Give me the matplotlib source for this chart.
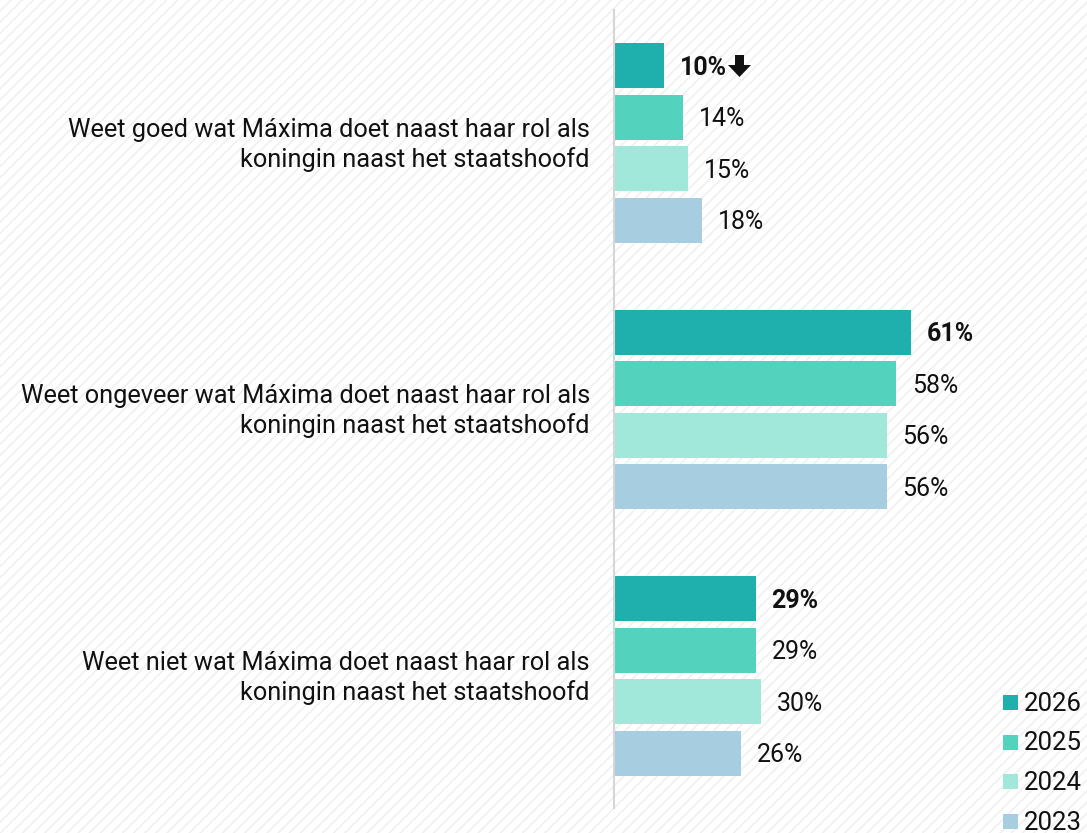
import matplotlib.pyplot as plt
from matplotlib.patches import Rectangle, Polygon

categories = [
    "Weet goed wat Máxima doet naast haar rol als\nkoningin naast het staatshoofd",
    "Weet ongeveer wat Máxima doet naast haar rol als\nkoningin naast het staatshoofd",
    "Weet niet wat Máxima doet naast haar rol als\nkoningin naast het staatshoofd",
]
years = ["2026", "2025", "2024", "2023"]
values = {
    "2026": [10, 61, 29],
    "2025": [14, 58, 29],
    "2024": [15, 56, 30],
    "2023": [18, 56, 26],
}
colors = {"2026": "#1fb0ae", "2025": "#53d3bd", "2024": "#a2e8da", "2023": "#a7cde1"}

W, H = 1087, 833
plt.rcParams['font.family'] = ['Roboto', 'DejaVu Sans']
plt.rcParams['hatch.color'] = '#f0f0f0'
plt.rcParams['hatch.linewidth'] = 1.2

fig = plt.figure(figsize=(W / 100, H / 100), dpi=100)
bg = Rectangle((0, 0), 1, 1, transform=fig.transFigure, facecolor='white',
               edgecolor='#f0f0f0', hatch='///', linewidth=0, zorder=-10)
fig.patches.append(bg)

# axes in pixel units: x from the baseline at 615 px, y top-down
x0 = 615
px_per_pct = 4.85
ax = fig.add_axes([x0 / W, 0, 1 - x0 / W, 1])
ax.set_xlim(0, (W - x0) / px_per_pct)
ax.set_ylim(H, 0)
ax.axis('off')
ax.patch.set_alpha(0)

group_start, group_step, bar_step, bar_h = 65.5, 266.5, 51.5, 45
for g, cat in enumerate(categories):
    for i, yr in enumerate(years):
        y = group_start + g * group_step + i * bar_step
        v = values[yr][g]
        ax.barh(y, v, height=bar_h, color=colors[yr], edgecolor='none')
        ax.annotate(f"{v}%", (v, y), xytext=(11.5, -1.5), textcoords='offset points',
                    va='center', ha='left', fontsize=18,
                    fontweight='bold' if yr == "2026" else 'normal', color='#111111')
    yc = group_start + g * group_step + 1.5 * bar_step + 2
    fig.text(590 / W, 1 - yc / H, cat, ha='right', va='center', fontsize=18.3,
             linespacing=1.24, color='#111111')

# down arrow after the first 2026 value (pixel coords, y top-down)
arrow_px = [(735, 55), (744, 55), (744, 65), (751, 65), (739.5, 77), (728, 65), (735, 65)]
fig.patches.append(Polygon([(x / W, 1 - y / H) for x, y in arrow_px], closed=True,
                           transform=fig.transFigure, facecolor='#111111',
                           edgecolor='none'))

# baseline
fig.add_artist(plt.Line2D([614 / W, 614 / W], [1 - 10 / H, 1 - 808 / H],
                          transform=fig.transFigure, color='#d6d6d6', lw=1.5))

# legend
for k, yr in enumerate(years):
    yc = 703 + k * 39.5
    fig.patches.append(Rectangle((1003 / W, 1 - (yc + 7) / H), 15 / W, 15 / H,
                                 transform=fig.transFigure, facecolor=colors[yr],
                                 edgecolor='none'))
    fig.text(1024 / W, 1 - (yc + 1) / H, yr, ha='left', va='center', fontsize=18.5,
             color='#111111')

fig.savefig("out.png", dpi=100)
